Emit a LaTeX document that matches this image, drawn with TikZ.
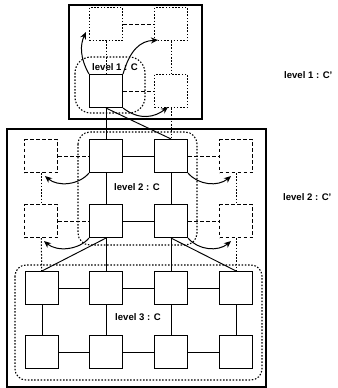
\documentclass[tikz,border=0pt]{standalone}
\usepackage{fontspec}
\setmainfont{Liberation Sans}
\usetikzlibrary{arrows.meta}
\begin{document}
\begin{tikzpicture}[x=1bp,y=-1bp,
  solidbox/.style={draw, line width=1.1bp, minimum width=33bp, minimum height=33bp, inner sep=0pt, fill=white},
  dashbox/.style={solidbox, dash pattern=on 3.5bp off 2.5bp},
  dotbox/.style={solidbox, dash pattern=on 1.5bp off 1.7bp},
  solidline/.style={line width=0.95bp},
  dashline/.style={line width=0.95bp, dash pattern=on 3.5bp off 2.5bp},
  dotline/.style={line width=1bp, dash pattern=on 1.5bp off 1.7bp},
  frame/.style={draw, line width=1.3bp},
  region/.style={draw, line width=1.1bp, dash pattern=on 1.5bp off 1.7bp},
  curvearrow/.style={line width=1bp, -{Stealth[length=7bp,width=6bp]}},
  lbl/.style={font=\fontsize{9.6}{10}\selectfont\bfseries, inner sep=0pt}
]
\useasboundingbox (0,0) rectangle (338,388);
% frames
\draw[frame] (69,5) rectangle (202,119);
\draw[frame] (7,129) rectangle (266,387);
% dotted regions
\draw[region, rounded corners=16bp] (75,57) rectangle (145,113);
\draw[region, rounded corners=12bp] (78,132) rectangle (197,245);
\draw[region, rounded corners=11bp] (15,265) rectangle (262,380);
% level 1 nodes
\node[dotbox] (T1) at (106,24) {};
\node[dotbox] (T2) at (171,24) {};
\node[solidbox] (S) at (106,91) {};
\node[dotbox] (T3) at (171,91) {};
% level 2 nodes
\node[dashbox] (D1) at (41,156) {};
\node[solidbox] (A) at (106,156) {};
\node[solidbox] (B) at (171,156) {};
\node[dashbox] (D2) at (236,156) {};
\node[dashbox] (D3) at (41,221) {};
\node[solidbox] (C) at (106,221) {};
\node[solidbox] (D) at (171,221) {};
\node[dashbox] (D4) at (236,221) {};
% level 3 nodes
\node[solidbox] (a1) at (42,288) {};
\node[solidbox] (a2) at (106,288) {};
\node[solidbox] (a3) at (171,288) {};
\node[solidbox] (a4) at (236,288) {};
\node[solidbox] (b1) at (42,352) {};
\node[solidbox] (b2) at (106,352) {};
\node[solidbox] (b3) at (171,352) {};
\node[solidbox] (b4) at (236,352) {};
% level 1 connectors
\draw[dashline] (T1) -- (T2);
\draw[dashline] (S) -- (T3);
\draw[dotline] (T1) -- (S);
\draw[dotline] (T2) -- (T3);
\draw[dotline] (T3) -- (B);
\draw[solidline] (S) -- (A);
\draw[solidline] (S.south) -- (B.north);
% level 2 connectors
\draw[dashline] (D1) -- (A);
\draw[solidline] (A) -- (B);
\draw[dashline] (B) -- (D2);
\draw[dashline] (D3) -- (C);
\draw[solidline] (C) -- (D);
\draw[dashline] (D) -- (D4);
\draw[dotline] (D1) -- (D3);
\draw[dotline] (D2) -- (D4);
\draw[solidline] (A) -- (C);
\draw[solidline] (B) -- (D);
\draw[dotline] (D3) -- (a1);
\draw[dotline] (D4) -- (a4);
\draw[solidline] (C.south) -- (a1.north);
\draw[solidline] (C) -- (a2);
\draw[solidline] (D) -- (a3);
\draw[solidline] (D.south) -- (a4.north);
% level 3 connectors
\draw[solidline] (a1) -- (a2);
\draw[solidline] (a2) -- (a3);
\draw[solidline] (a3) -- (a4);
\draw[solidline] (b1) -- (b2);
\draw[solidline] (b2) -- (b3);
\draw[solidline] (b3) -- (b4);
\draw[solidline] (a1) -- (b1);
\draw[solidline] (a2) -- (b2);
\draw[solidline] (a3) -- (b3);
\draw[solidline] (a4) -- (b4);
% curved arrows level 1
\draw[curvearrow] (S.north west) .. controls +(-9,-16) and +(-6,13) .. ([shift={(-3,-9)}]T1.south west);
\draw[curvearrow] (S.north east) .. controls +(7,-24) and +(-18,1) .. ([shift={(4,-1)}]T2.south west);
\draw[curvearrow] (S.south east) .. controls +(17,13) and +(-13,10) .. ([shift={(-3,-1)}]T3.south);
% curved arrows level 2
\draw[curvearrow] (A.south west) .. controls +(-10,12) and +(13,11) .. ([shift={(4,3)}]D1.south);
\draw[curvearrow] (C.south west) .. controls +(-10,12) and +(13,11) .. ([shift={(3,3)}]D3.south);
\draw[curvearrow] (B.south east) .. controls +(10,12) and +(-13,11) .. ([shift={(-5,3)}]D2.south);
\draw[curvearrow] (D.south east) .. controls +(10,12) and +(-13,11) .. ([shift={(-5,3)}]D4.south);
% labels
\node[lbl] (l1) at (115,67) {level 1 : C};
\node[lbl] (l2) at (137,187) {level 2 : C};
\node[lbl] (l3) at (138,317) {level 3 : C};
\node[lbl, anchor=west] (r1) at (284,75) {level 1 : C'};
\node[lbl, anchor=west] (r2) at (283,197) {level 2 : C'};
\end{tikzpicture}
\end{document}
